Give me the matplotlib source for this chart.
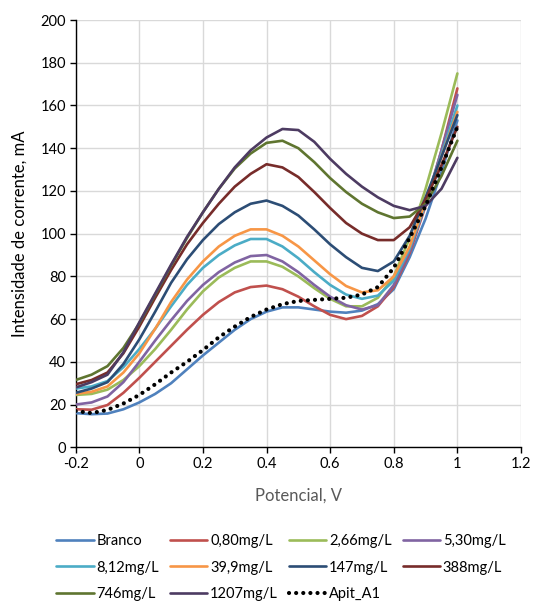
import matplotlib
matplotlib.use("Agg")
import matplotlib.pyplot as plt

plt.rcParams['font.family'] = ['Lato', 'DejaVu Sans']

potential = [-0.2, -0.15, -0.1, -0.05, 0.0, 0.05, 0.1, 0.15, 0.2, 0.25, 0.3, 0.35,
             0.4, 0.45, 0.5, 0.55, 0.6, 0.65, 0.7, 0.75, 0.8, 0.85, 0.9, 0.95, 1.0]

branco = [16, 15.5, 15.8, 17.8, 21, 25, 30, 36.5, 43, 49, 55, 60,
          63.5, 65.5, 65.5, 64.5, 63.5, 63, 64, 67, 74, 89, 107, 129, 153]
c_080 = [17.8, 17.6, 19.8, 25.5, 32.5, 40, 47.5, 55, 62, 68, 72.5, 75,
         75.7, 74, 70.5, 66, 62, 60, 61.5, 66, 75, 91, 113, 139, 168]
c_266 = [24.5, 25, 27, 31.5, 38, 46, 55, 64.5, 73, 79.5, 84, 87,
         87, 84.5, 80, 74.5, 69.5, 66, 66, 70, 80, 98, 121, 147, 175]
c_530 = [20, 21, 23.8, 30.5, 40, 50, 59.5, 68.5, 76, 82, 86.5, 89.5,
         90, 87, 82, 76, 70.5, 66.5, 64.5, 66.5, 76, 92, 114, 139, 165]
c_812 = [27.5, 28.5, 31, 37.5, 46, 55.5, 66, 76, 84, 90, 94.5, 97.5,
         97.5, 94, 88.5, 82, 76, 71.5, 69.5, 71, 78, 93, 114, 137, 160]
c_399 = [25, 26, 28.5, 35, 44, 55.5, 68, 78.5, 87, 94, 99, 102,
         102, 99, 94, 87.5, 81, 75.5, 72.5, 73.5, 80, 94, 115, 136, 157]
c_147 = [25.5, 27.5, 30.5, 39, 50.5, 63.5, 77, 88, 97, 104.5, 110, 114,
         115.5, 113, 108.5, 102, 95, 89, 84, 82.5, 87, 99, 117, 136, 155.5]
c_388 = [29.5, 31.5, 35, 44, 56.5, 70, 83, 95, 105, 114, 122, 128,
         132.5, 131, 126.5, 119.5, 112, 105, 100, 97, 97, 103, 116, 132, 150]
c_746 = [31.5, 34, 38, 46.5, 58, 71.5, 85, 98, 110, 121, 130.5, 137.5,
         142.5, 143.5, 140, 133.5, 126, 119.5, 114, 110, 107.3, 108, 114, 127, 143.5]
c_1207 = [28, 30.5, 34, 44.5, 58.5, 72, 85.5, 98.5, 110, 121, 131, 139,
          145, 149, 148.5, 143, 135, 128, 122, 117, 113, 111, 113, 121, 135.5]
apit_a1 = [17, 16, 17.5, 20.5, 24.5, 29.5, 35, 40, 45.5, 51.5, 56.5, 61,
           64.5, 67, 68.5, 69, 69.5, 70, 71.5, 75, 84, 98, 113, 131, 150]

series_labels = ['Branco', '0,80mg/L', '2,66mg/L', '5,30mg/L', '8,12mg/L', '39,9mg/L',
                 '147mg/L', '388mg/L', '746mg/L', '1207mg/L', 'Apit_A1']
series_values = [branco, c_080, c_266, c_530, c_812, c_399, c_147, c_388, c_746, c_1207, apit_a1]
series_colors = ['#4F81BD', '#C0504D', '#9BBB59', '#8064A2', '#4BACC6', '#F79646',
                 '#2C4D75', '#772C2A', '#5F7530', '#4D3B62', '#000000']

x_ticks = [-0.2, 0, 0.2, 0.4, 0.6, 0.8, 1.0, 1.2]
x_tick_labels = ['-0.2', '0', '0.2', '0.4', '0.6', '0.8', '1', '1.2']
y_ticks = [0, 20, 40, 60, 80, 100, 120, 140, 160, 180, 200]
y_tick_labels = ['0', '20', '40', '60', '80', '100', '120', '140', '160', '180', '200']

fig = plt.figure(figsize=(5.33, 6.03), dpi=100)
ax = fig.add_axes([0.142, 0.2582, 0.8355, 0.7086])

handles = []
for lab, vals, col in zip(series_labels, series_values, series_colors):
    if lab == 'Apit_A1':
        h, = ax.plot(potential, vals, color=col, linestyle=(0, (0.01, 1.7)),
                     linewidth=3.0, dash_capstyle='round', label=lab, zorder=5)
    else:
        h, = ax.plot(potential, vals, color=col, linewidth=1.9, label=lab,
                     solid_joinstyle='round', solid_capstyle='round', zorder=3)
    handles.append(h)

ax.set_xlim(-0.2, 1.2)
ax.set_ylim(0, 200)
ax.set_xticks(x_ticks)
ax.set_xticklabels(x_tick_labels)
ax.set_yticks(y_ticks)
ax.set_yticklabels(y_tick_labels)
ax.grid(True, color='#D9D9D9', linewidth=1.0, zorder=0)
ax.set_axisbelow(True)
for s in ['top', 'right']:
    ax.spines[s].set_visible(False)
for s in ['left', 'bottom']:
    ax.spines[s].set_color('#000000')
    ax.spines[s].set_linewidth(1.0)
ax.tick_params(axis='both', direction='out', length=4, width=1.0, labelsize=10.5,
               colors='#000000', pad=3)

ax.set_ylabel('Intensidade de corrente, mA', fontsize=12, color='#000000', labelpad=9)
ax.set_xlabel('Potencial, V', fontsize=12, color='#595959', labelpad=12)

order = [0, 4, 8, 1, 5, 9, 2, 6, 10, 3, 7]
leg = fig.legend([handles[i] for i in order], [series_labels[i] for i in order],
                 ncol=4, loc='upper left', bbox_to_anchor=(0.092, 0.127),
                 frameon=False, fontsize=10.5, handlelength=2.55, handletextpad=0.2,
                 columnspacing=0.75, labelspacing=0.88, borderpad=0.0)

fig.savefig('out.png', dpi=100)
